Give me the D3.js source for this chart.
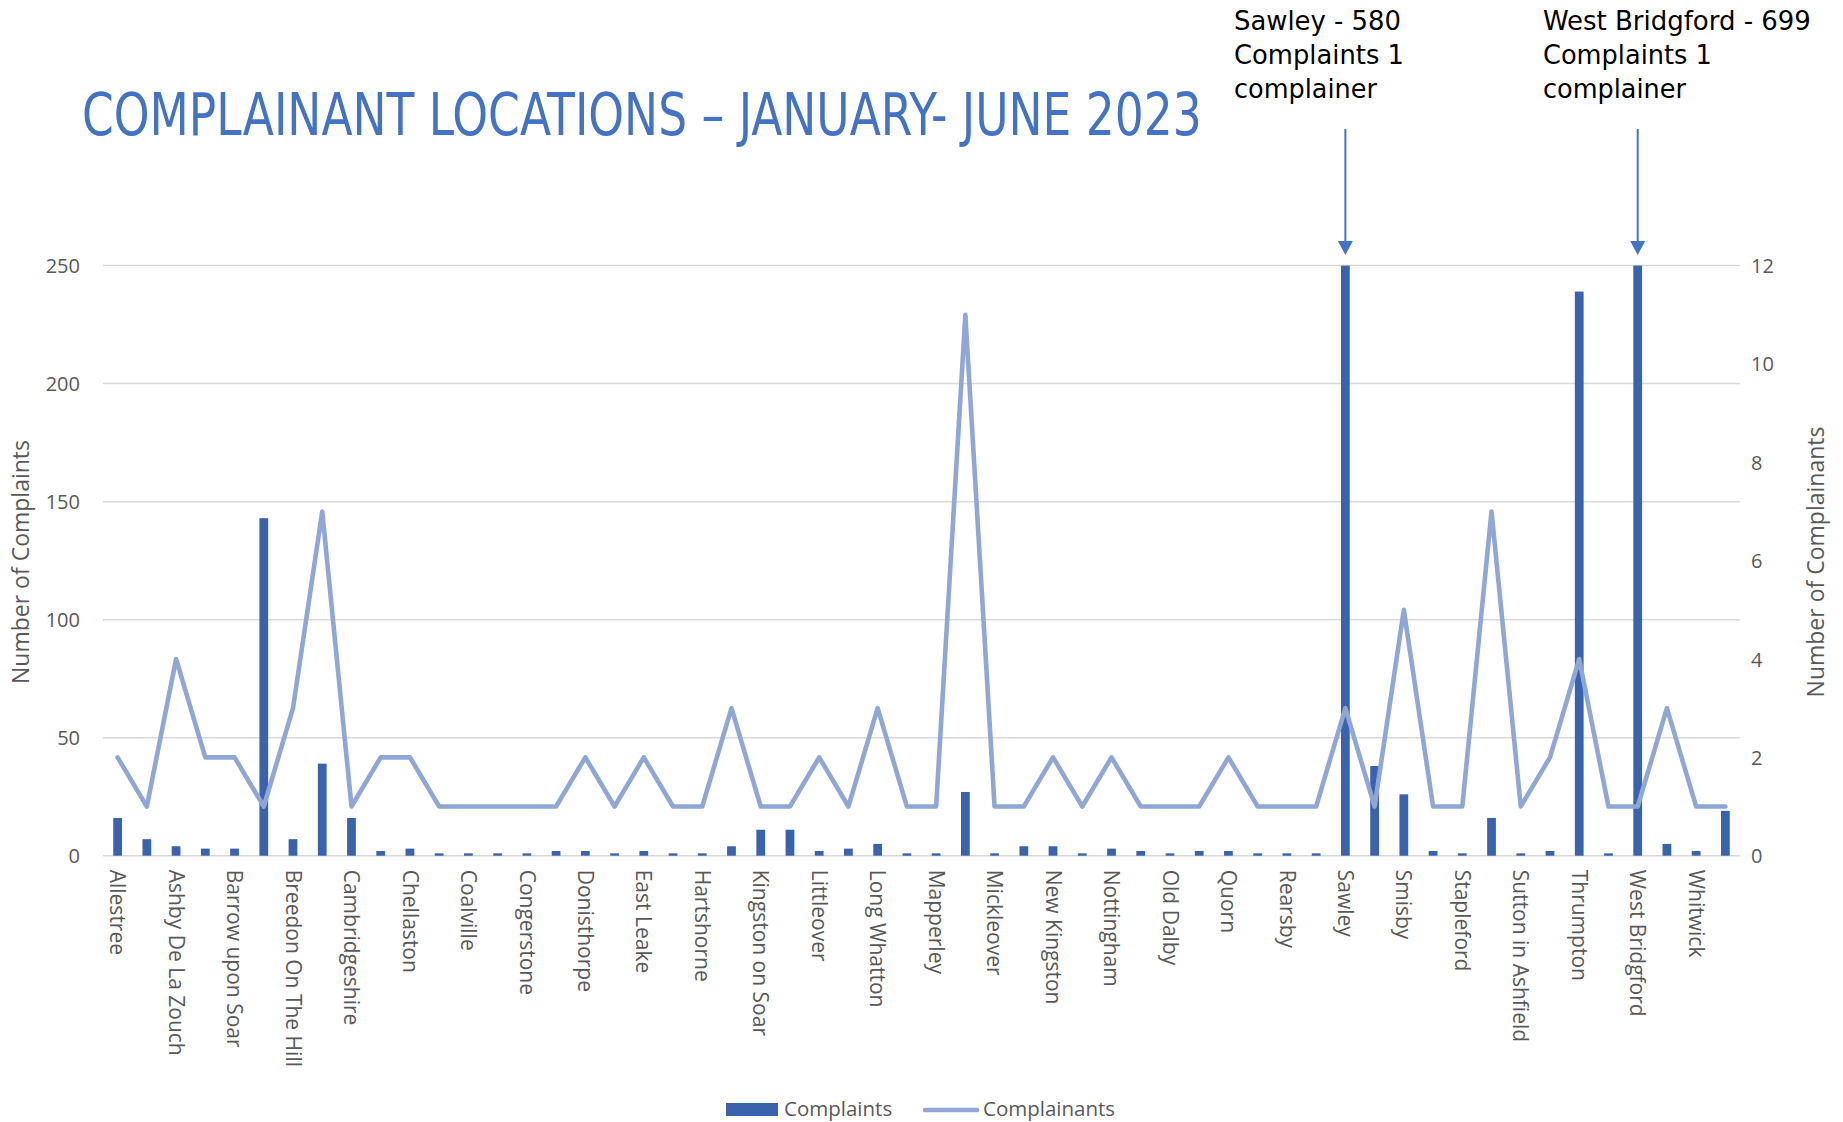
<!DOCTYPE html>
<html>
<head>
<meta charset="utf-8">
<script src="https://cdn.jsdelivr.net/npm/d3@7"></script>
<style>
  html, body { margin: 0; padding: 0; background: #ffffff; }
  svg { display: block; }
</style>
</head>
<body>
<svg id="chart" width="1843" height="1122"></svg>
<script>
// ---------- data ----------
const categories = [
  "Allestree", "Alvaston", "Ashby De La Zouch", "Aston on Trent", "Barrow upon Soar", "Belton",
  "Breedon On The Hill", "Burton on Trent", "Cambridgeshire", "Castle Donington", "Chellaston", "Clifton",
  "Coalville", "Coleorton", "Congerstone", "Derby", "Donisthorpe", "Draycott",
  "East Leake", "Gotham", "Hartshorne", "Hathern", "Kingston on Soar", "Leicester",
  "Littleover", "Long Eaton", "Long Whatton", "Loughborough", "Mapperley", "Melbourne",
  "Mickleover", "Moira", "New Kingston", "Normanton on Soar", "Nottingham", "Oakthorpe",
  "Old Dalby", "Packington", "Quorn", "Ratcliffe on Soar", "Rearsby", "Ruddington",
  "Sawley", "Shepshed", "Smisby", "Spondon", "Stapleford", "Sutton Bonington",
  "Sutton in Ashfield", "Swadlincote", "Thrumpton", "Ticknall", "West Bridgford", "West Hallam",
  "Whitwick", "Worthington"
];
const complaints = [
  16, 7, 4, 3, 3, 143,
  7, 39, 16, 2, 3, 1,
  1, 1, 1, 2, 2, 1,
  2, 1, 1, 4, 11, 11,
  2, 3, 5, 1, 1, 27,
  1, 4, 4, 1, 3, 2,
  1, 2, 2, 1, 1, 1,
  580, 38, 26, 2, 1, 16,
  1, 2, 239, 1, 699, 5,
  2, 19
];
const complainants = [
  2, 1, 4, 2, 2, 1,
  3, 7, 1, 2, 2, 1,
  1, 1, 1, 1, 2, 1,
  2, 1, 1, 3, 1, 1,
  2, 1, 3, 1, 1, 11,
  1, 1, 2, 1, 2, 1,
  1, 1, 2, 1, 1, 1,
  3, 1, 5, 1, 1, 7,
  1, 2, 4, 1, 1, 3,
  1, 1
];
const leftTicks = [0, 50, 100, 150, 200, 250];
const rightTicks = [0, 2, 4, 6, 8, 10, 12];
const shownLabels = categories.filter((d, i) => i % 2 === 0);
const titleText = "COMPLAINANT LOCATIONS \u2013 JANUARY- JUNE 2023";
const annotations = [
  { category: "Sawley", lines: ["Sawley - 580", "Complaints 1", "complainer"] },
  { category: "West Bridgford", lines: ["West Bridgford - 699", "Complaints 1", "complainer"] }
];
const legendItems = ["Complaints", "Complainants"];

// ---------- layout ----------
const plotLeft = 103, plotRight = 1740, plotTop = 265.6, plotBottom = 855.7;
const barColor = "#3A63AD";
const lineColor = "#8FA6D7";
const accent = "#4472C4";
const textColor = "#595959";
const uiFont = "'Open Sans', 'Noto Sans', sans-serif";
const displayFont = "'Liberation Sans Narrow', 'DejaVu Sans Condensed', sans-serif";

const svg = d3.select("#chart");

// helper: place text at (x, y) and squeeze horizontally to a target width
function fitText(sel, tx, ty, width) {
  const node = sel.node();
  const natural = node.getComputedTextLength();
  const sx = natural > 0 ? width / natural : 1;
  sel.attr("x", 0).attr("y", 0)
    .attr("transform", `translate(${tx},${ty}) scale(${sx},1)`);
}

const x = d3.scaleBand().domain(categories).range([plotLeft, plotRight]).padding(0);
const yL = d3.scaleLinear().domain([0, 250]).range([plotBottom, plotTop]).clamp(true);
const yR = d3.scaleLinear().domain([0, 12]).range([plotBottom, plotTop]);

// gridlines
svg.append("g").selectAll("line").data(leftTicks).join("line")
  .attr("x1", plotLeft).attr("x2", plotRight)
  .attr("y1", d => yL(d)).attr("y2", d => yL(d))
  .attr("stroke", "#D9D9D9").attr("stroke-width", 1.5);

// left axis
const leftAxis = svg.append("g")
  .attr("transform", `translate(${plotLeft - 23},0)`)
  .call(d3.axisLeft(yL).tickValues(leftTicks).tickSize(0).tickPadding(0));
leftAxis.select(".domain").remove();
leftAxis.selectAll("text").attr("font-family", uiFont).attr("font-size", 20)
  .attr("fill", textColor).attr("dy", "0.35em");

// right axis
const rightAxis = svg.append("g")
  .attr("transform", `translate(${plotRight + 11},0)`)
  .call(d3.axisRight(yR).tickValues(rightTicks).tickSize(0).tickPadding(0));
rightAxis.select(".domain").remove();
rightAxis.selectAll("text").attr("font-family", uiFont).attr("font-size", 20)
  .attr("fill", textColor).attr("dy", "0.35em");

// bars
const bw = x.bandwidth() * 0.3;
svg.append("g").selectAll("rect").data(categories).join("rect")
  .attr("x", d => x(d) + x.bandwidth() / 2 - bw / 2)
  .attr("width", bw)
  .attr("y", (d, i) => yL(complaints[i]))
  .attr("height", (d, i) => plotBottom - yL(complaints[i]))
  .attr("fill", barColor);

// line
const line = d3.line()
  .x((d, i) => x(categories[i]) + x.bandwidth() / 2)
  .y(d => yR(d));
svg.append("path").datum(complainants)
  .attr("d", line)
  .attr("fill", "none")
  .attr("stroke", lineColor)
  .attr("stroke-width", 4.6)
  .attr("stroke-linejoin", "round")
  .attr("stroke-linecap", "round");

// category axis
const xAxis = svg.append("g")
  .attr("transform", `translate(0,${plotBottom})`)
  .call(d3.axisBottom(x).tickValues(shownLabels).tickSize(0).tickPadding(0));
xAxis.select(".domain").remove();
xAxis.selectAll("text")
  .attr("font-family", uiFont).attr("font-size", 21).attr("fill", textColor)
  .attr("text-anchor", "start")
  .attr("transform", "rotate(90)")
  .attr("x", 14).attr("y", 0).attr("dy", "0.35em");

// axis titles
svg.append("text")
  .attr("transform", `translate(21,562) rotate(-90)`)
  .attr("text-anchor", "middle").attr("dy", "0.35em")
  .attr("font-family", uiFont).attr("font-size", 23).attr("fill", textColor)
  .text("Number of Complaints");
svg.append("text")
  .attr("transform", `translate(1816,562) rotate(-90)`)
  .attr("text-anchor", "middle").attr("dy", "0.35em")
  .attr("font-family", uiFont).attr("font-size", 23).attr("fill", textColor)
  .text("Number of Complainants");

// title
const title = svg.append("text")
  .attr("font-family", displayFont).attr("font-size", 58).attr("fill", accent)
  .text(titleText);
fitText(title, 82, 135, 1120);

// annotations
const annWidths = [[167, 170, 143], [268, 169, 143]];
const annX = [1234, 1543];
annotations.forEach((a, k) => {
  const g = svg.append("g");
  a.lines.forEach((t, j) => {
    const tt = g.append("text")
      .attr("font-family", displayFont).attr("font-size", 27).attr("fill", "#000")
      .text(t);
    fitText(tt, annX[k], 29.5 + j * 34, annWidths[k][j]);
  });
  const cx = x(a.category) + x.bandwidth() / 2;
  g.append("line").attr("x1", cx).attr("x2", cx).attr("y1", 129).attr("y2", 244)
    .attr("stroke", accent).attr("stroke-width", 2);
  g.append("path")
    .attr("d", `M${cx - 7.5},${241} L${cx + 7.5},${241} L${cx},${255} Z`)
    .attr("fill", accent);
});

// legend
const lg = svg.append("g");
lg.append("rect").attr("x", 726).attr("y", 1103).attr("width", 52).attr("height", 13).attr("fill", barColor);
lg.append("text").attr("x", 784).attr("y", 1109).attr("dy", "0.35em")
  .attr("font-family", uiFont).attr("font-size", 20.5).attr("fill", textColor).text(legendItems[0]);
lg.append("line").attr("x1", 925).attr("x2", 977).attr("y1", 1110).attr("y2", 1110)
  .attr("stroke", lineColor).attr("stroke-width", 4.6).attr("stroke-linecap", "round");
lg.append("text").attr("x", 983).attr("y", 1109).attr("dy", "0.35em")
  .attr("font-family", uiFont).attr("font-size", 20.5).attr("fill", textColor).text(legendItems[1]);
</script>
</body>
</html>
